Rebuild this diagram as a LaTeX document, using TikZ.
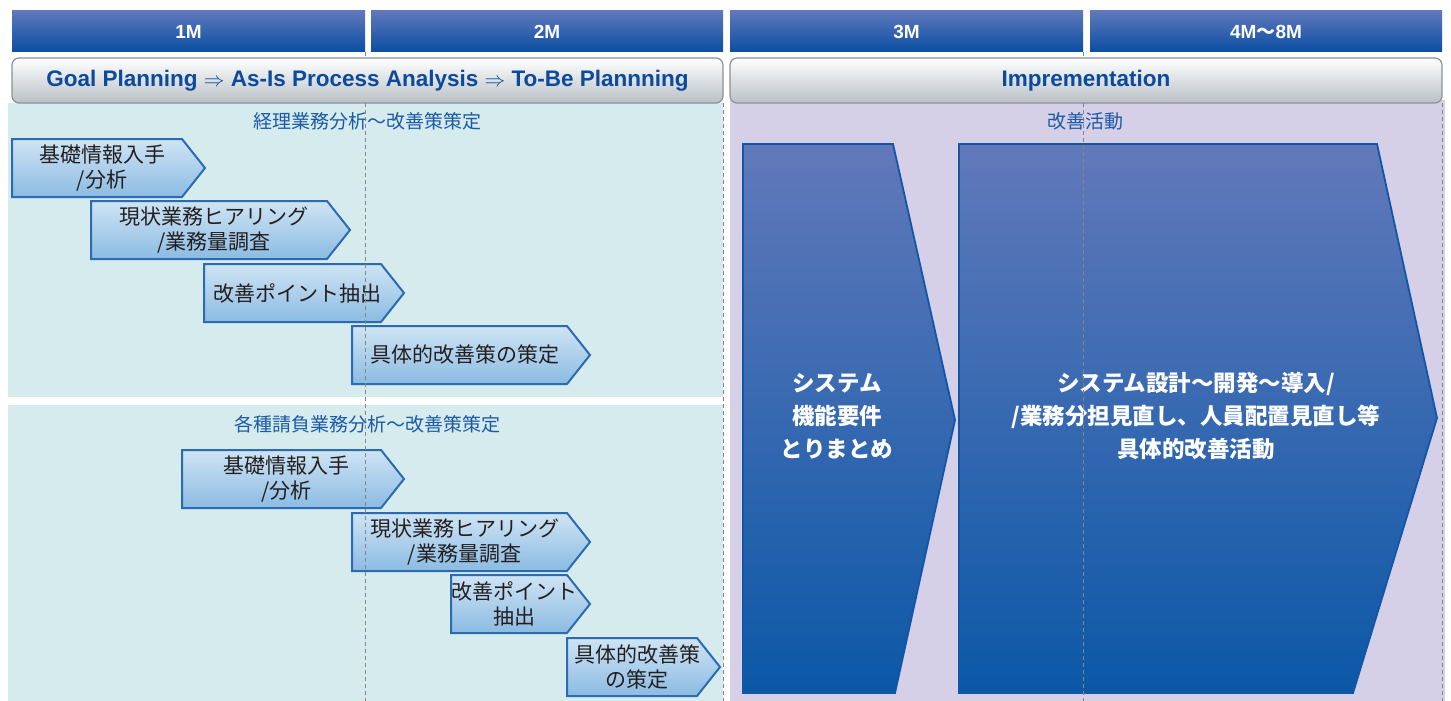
\documentclass[tikz,border=0pt]{standalone}
\usepackage{fontspec}
\setmainfont{Liberation Sans}
\newfontfamily\cjk{Noto Sans CJK JP}
\definecolor{hdrtop}{HTML}{5F78BC}
\definecolor{hdrbot}{HTML}{0A4EA2}
\definecolor{cyanbg}{HTML}{D5EBEE}
\definecolor{lavbg}{HTML}{D5CFE7}
\definecolor{sarrtop}{HTML}{CFE4F4}
\definecolor{sarrbot}{HTML}{8BBBE2}
\definecolor{sarrline}{HTML}{2C6AB2}
\definecolor{bigtop}{HTML}{6179BA}
\definecolor{bigmid}{HTML}{4C6BB4}
\definecolor{bigbot}{HTML}{0B58A7}
\definecolor{bigline}{HTML}{1456A6}
\definecolor{bantext}{HTML}{0B4A9C}
\definecolor{banline}{HTML}{8B909B}
\definecolor{bangray}{HTML}{BAC0C5}
\definecolor{seclabel}{HTML}{1C5AA6}
\definecolor{dashc}{HTML}{858585}
\definecolor{arrtext}{HTML}{231F20}
\tikzset{
  hdr/.style={minimum height=41pt,inner sep=0pt,top color=hdrtop,bottom color=hdrbot,
    text=white,font=\fontsize{19}{22}\selectfont\bfseries},
  banner/.style={minimum height=45pt,inner sep=0pt,rounded corners=7pt,draw=banline,line width=1.2pt,
    top color=white,middle color=white!85!bangray,bottom color=bangray,
    text=bantext,font=\fontsize{22.5}{26}\selectfont\bfseries},
  seclab/.style={inner sep=0pt,text=seclabel,font=\cjk\fontsize{19}{22}\selectfont},
  sarrfill/.style={top color=sarrtop,bottom color=sarrbot,draw=sarrline,line width=2pt,line join=miter},
  sarrtext/.style={inner sep=0pt,align=center,text=arrtext,font=\cjk\fontsize{21}{25}\selectfont},
  bigfill/.style={top color=bigtop,middle color=bigmid,bottom color=bigbot,draw=bigline,line width=1.8pt},
  bigtext/.style={inner sep=0pt,align=center,text=white,font=\cjk\bfseries\fontsize{22.5}{33}\selectfont},
  guide/.style={draw=dashc,line width=0.9pt,dash pattern=on 4pt off 3pt}
}
\newcommand\sarrow[5]{%
  \path[sarrfill] (#2,#3) -- (#4,#3) -- ({#4+23},{#3+29}) -- (#4,{#3+58}) -- (#2,{#3+58}) -- cycle;
  \node[sarrtext] (#1) at ({(#2+#4)/2+5},{#3+29}) {#5};
}
\begin{document}
\begin{tikzpicture}[x=1pt,y=-1pt]
\useasboundingbox (0,0) rectangle (1451,701);
% backgrounds
\fill[cyanbg] (8,103) rectangle (723,397);
\fill[cyanbg] (8,405) rectangle (723,701);
\fill[lavbg] (730,100) rectangle (1445,701);
% headers
\node[hdr,minimum width=353pt] (h1) at (188.5,31.5) {1M};
\node[hdr,minimum width=352pt] (h2) at (547,31.5) {2M};
\node[hdr,minimum width=353pt] (h3) at (906.5,31.5) {3M};
\node[hdr,minimum width=352pt] (h4) at (1266,31.5) {4M{\cjk ～}8M};
% banners
\node[banner,minimum width=711pt] (b1) at (367.5,80.5) {Goal Planning $\Rightarrow$ As-Is Process Analysis $\Rightarrow$ To-Be Plannning};
\node[banner,minimum width=712pt] (b2) at (1086,80.5) {Imprementation};
% section labels
\node[seclab] (s1) at (367,121.5) {経理業務分析～改善策策定};
\node[seclab] (s2) at (367,424.5) {各種請負業務分析～改善策策定};
\node[seclab] (s3) at (1085.5,121.5) {改善活動};
% small arrows
\sarrow{a1}{12}{139}{182}{基礎情報入手\\/分析}
\sarrow{a2}{91}{201}{327}{現状業務ヒアリング\\/業務量調査}
\sarrow{a3}{204}{264}{381}{改善ポイント抽出}
\sarrow{a4}{352}{326}{567}{具体的改善策の策定}
\sarrow{a5}{182}{450}{381}{基礎情報入手\\/分析}
\sarrow{a6}{352}{513}{567}{現状業務ヒアリング\\/業務量調査}
\sarrow{a7}{451}{575}{567}{改善ポイント\\抽出}
\sarrow{a8}{567}{638}{697}{具体的改善策\\の策定}
% big arrows
\path[bigfill] (743,144) -- (893,144) -- (955,420) -- (895,693) -- (743,693) -- cycle;
\node[bigtext] (t1) at (837,416) {システム\\機能要件\\とりまとめ};
\path[bigfill] (959,144) -- (1377,144) -- (1437,418) -- (1353,693) -- (959,693) -- cycle;
\node[bigtext] (t2) at (1196,416) {システム設計～開発～導入/\\/業務分担見直し、人員配置見直し等\\具体的改善活動};
% dashed guides
\draw[guide] (365,52) -- (365,58);
\draw[guide] (365,103) -- (365,701);
\draw[guide] (1083,52) -- (1083,58);
\draw[guide] (1083,103) -- (1083,701);
\draw[guide] (723,103) -- (723,701);
\draw[guide] (1442,103) -- (1442,701);
\end{tikzpicture}
\end{document}
